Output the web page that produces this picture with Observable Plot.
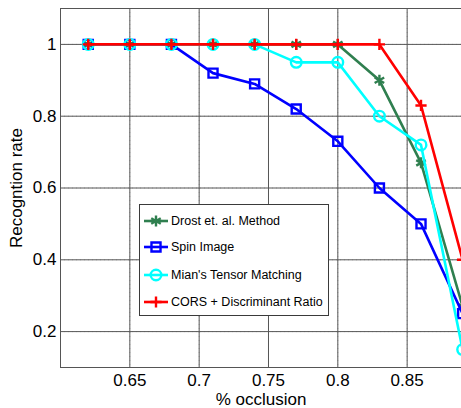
<!DOCTYPE html>
<html>
<head>
<meta charset="utf-8">
<script src="https://cdn.jsdelivr.net/npm/d3@7"></script>
<script src="https://cdn.jsdelivr.net/npm/@observablehq/plot@0.6"></script>
<style>
  html, body { margin: 0; padding: 0; background: #fff; overflow: hidden; }
  #wrap { position: relative; width: 461px; height: 408px; overflow: hidden; }
  #legend {
    position: absolute; left: 139px; top: 204px; width: 190px; height: 112px;
    background: #fff; border: 1px solid #3a3a3a; box-sizing: border-box;
    font-family: "Liberation Sans", Arial, Helvetica, sans-serif; font-size: 12.5px; color: #000;
  }
  .row { position: absolute; left: 4px; height: 20px; display: flex; align-items: center; }
  .row svg { display: block; margin-right: 3px; }
</style>
</head>
<body>
<div id="wrap"><div id="legend"></div></div>
<script>
// ---- data ----
const occlusion = [0.62, 0.65, 0.68, 0.71, 0.74, 0.77, 0.80, 0.83, 0.86, 0.89];
const drost = [1, 1, 1, 1, 1, 1, 1, 0.90, 0.67, 0.27];
const spin  = [1, 1, 1, 0.92, 0.89, 0.82, 0.73, 0.60, 0.50, 0.25];
const mian  = [1, 1, 1, 1, 1, 0.95, 0.95, 0.80, 0.72, 0.15];
const cors  = [1, 1, 1, 1, 1, 1, 1, 1, 0.83, 0.40];
const seriesNames = ["Drost et. al. Method", "Spin Image", "Mian's Tensor Matching", "CORS + Discriminant Ratio"];
const xTicks = [0.65, 0.7, 0.75, 0.8, 0.85];
const yTicks = [0.2, 0.4, 0.6, 0.8, 1];

const styles = [
  {values: drost, color: "#2f7f4f", symbol: "asterisk", r: 5.2},
  {values: spin,  color: "#0000ff", symbol: "square",   r: 5.1},
  {values: mian,  color: "#00ffff", symbol: "circle",   r: 5.3},
  {values: cors,  color: "#ff0000", symbol: "plus",     r: 3.7}
];

const rows = (vals) => occlusion.map((x, i) => ({x, y: vals[i]}));

const marks = [
  Plot.gridX(xTicks, {stroke: "#c0c0c0", strokeOpacity: 1, strokeDasharray: "1,3"}),
  Plot.gridY(yTicks, {stroke: "#c0c0c0", strokeOpacity: 1, strokeDasharray: "1,3"}),
  Plot.axisX(xTicks, {tickSize: 0, tickPadding: 6, fontSize: 17, tickFormat: d => String(d),
    label: "% occlusion", labelArrow: false, labelAnchor: "center", labelOffset: 37, color: "#000"}),
  Plot.axisY(yTicks, {tickSize: 0, tickPadding: 4, fontSize: 17, tickFormat: d => String(d),
    label: "Recogntion rate", labelArrow: false, labelAnchor: "center", labelOffset: 51, color: "#000"}),
  Plot.tickX(xTicks, {x: d => d, y1: 0.1, y2: 0.111, stroke: "#555"}),
  Plot.tickY(yTicks, {y: d => d, x1: 0.6, x2: 0.603, stroke: "#555"}),
  Plot.ruleX([0.6], {stroke: "#555"}),
  Plot.ruleY([0.1, 1.1], {stroke: "#555"})
];
for (const s of styles) {
  marks.push(Plot.line(rows(s.values), {x: "x", y: "y", stroke: s.color, strokeWidth: 2.6}));
  marks.push(Plot.dot(rows(s.values), {x: "x", y: "y", stroke: s.color, symbol: s.symbol, r: s.r, strokeWidth: 2.4, fill: "none"}));
}

const chart = Plot.plot({
  width: 461, height: 408,
  marginLeft: 60, marginTop: 8, marginBottom: 41, marginRight: 0,
  style: {fontFamily: "'Liberation Sans', Arial, Helvetica, sans-serif", fontSize: "18px", color: "#000", background: "#fff"},
  x: {domain: [0.6, 0.8892]},
  y: {domain: [0.1, 1.1]},
  marks
});
chart.style.position = "absolute";
chart.style.left = "0px";
chart.style.top = "0px";
chart.style.overflow = "hidden";
document.getElementById("wrap").prepend(chart);

// legend
const leg = document.getElementById("legend");
const rowTops = [6, 32, 60, 87];
styles.forEach((s, i) => {
  const row = document.createElement("div");
  row.className = "row";
  row.style.top = rowTops[i] + "px";
  const svg = d3.create("svg").attr("width", 24).attr("height", 20);
  svg.append("line").attr("x1", 0).attr("x2", 24).attr("y1", 10).attr("y2", 10)
    .attr("stroke", s.color).attr("stroke-width", 2.6);
  const symMap = {asterisk: d3.symbolAsterisk, square: d3.symbolSquare, circle: d3.symbolCircle, plus: d3.symbolPlus};
  svg.append("path").attr("transform", "translate(12,10)")
    .attr("d", d3.symbol(symMap[s.symbol], Math.PI * s.r * s.r)())
    .attr("fill", "none").attr("stroke", s.color).attr("stroke-width", 2.4);
  row.appendChild(svg.node());
  const t = document.createElement("span");
  t.textContent = seriesNames[i];
  row.appendChild(t);
  leg.appendChild(row);
});
</script>
</body>
</html>
